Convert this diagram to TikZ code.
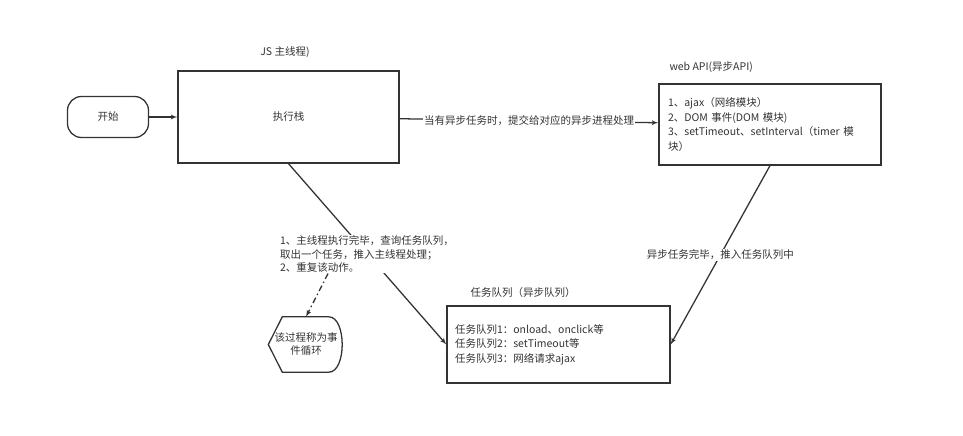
\documentclass[tikz,border=0pt]{standalone}
\usepackage{fontspec}
\setmainfont{Noto Sans CJK SC}
\usetikzlibrary{arrows}
\definecolor{ink}{HTML}{333333}

\begin{document}
\begin{tikzpicture}[x=1pt,y=-1pt,font=\fontsize{10.5}{14.5}\selectfont,text=ink,
    line/.style={draw=ink, -latex', line width=0.45mm},
    box/.style={draw=ink, line width=0.45mm, inner sep=0pt},
    note/.style={fill=white, inner sep=1pt},
    ]
    \useasboundingbox (0,0) rectangle (963,436);

    % Place nodes
    \node [box, rounded corners=14pt, minimum width=81pt, minimum height=41pt] (start) at (108,117) {开始};
    \node [box, minimum width=221pt, minimum height=92pt] (stack) at (288.5,117) {执行栈};
    \node (stacktitle) at (285,52) {JS 主线程)};

    \node [box, minimum width=222pt, minimum height=81pt, text width=204pt, align=left] (api) at (770,124.5)
      {1、ajax（网络模块）\\2、DOM 事件(DOM 模块)\\3、setTimeout、setInterval（timer 模\\块）};
    \node [anchor=west] (apititle) at (666,67) {web API(异步API)};

    \node [box, minimum width=223pt, minimum height=77pt, text width=207pt, align=left] (queue) at (558.5,344.5)
      {任务队列1：onload、onclick等\\任务队列2：setTimeout等\\任务队列3：网络请求ajax};
    \node (queuetitle) at (523,293) {任务队列（异步队列）};

    \node [minimum width=75pt, minimum height=55pt, align=center, font=\fontsize{10.5}{13}\selectfont] (loop) at (306,344.5)
      {该过程称为事\\件循环};
    \draw [ink, line width=0.45mm] (loop.west) -- ([xshift=14pt]loop.north west) -- ([xshift=-15pt]loop.north east)
      .. controls ([xshift=3pt]loop.north east) and ([xshift=3pt]loop.south east) .. ([xshift=-15pt]loop.south east)
      -- ([xshift=14pt]loop.south west) -- cycle;

    % Draw edges
    \path [line] (start) -- (stack);
    \path [line] (stack) -- node [note] {当有异步任务时，提交给对应的异步进程处理} (api);
    \path [line] (api.south) -- node [note] {异步任务完毕，推入任务队列中} (queue.east);
    \path [line] (stack.south) -- (queue.west);
    \node [note, align=left, font=\fontsize{10.5}{13.5}\selectfont] (steps) at (367,254)
      {1、主线程执行完毕，查询任务队列，\\取出一个任务，推入主线程处理；\\2、重复该动作。};
    \draw [line, dash pattern=on 6pt off 3pt on 1.5pt off 3pt] ([xshift=-39pt]steps.south) -- (loop.north);
  \end{tikzpicture}
\end{document}
